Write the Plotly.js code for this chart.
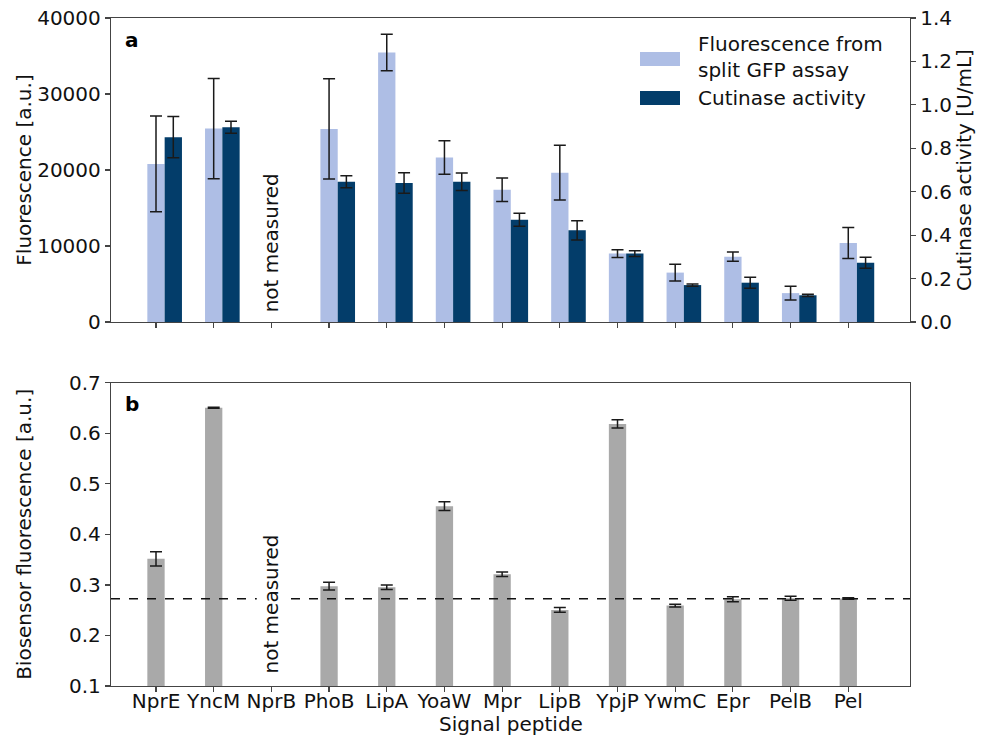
<!DOCTYPE html>
<html>
<head>
<meta charset="utf-8">
<script src="https://cdn.plot.ly/plotly-3.0.1.min.js"></script>
<style>html,body{margin:0;padding:0;background:#fff;}#chart{width:984px;height:737px;}</style>
</head>
<body>
<div id="chart"></div>
<script>
// ---- data ----
const peptides = ["NprE","YncM","NprB","PhoB","LipA","YoaW","Mpr","LipB","YpjP","YwmC","Epr","PelB","Pel"];
const splitGFP = [20800, 25450, null, 25400, 35450, 21650, 17400, 19650, 9000, 6500, 8600, 3800, 10400];
const splitGFPErr = [6300, 6600, null, 6600, 2400, 2200, 1550, 3600, 500, 1100, 600, 900, 2050];
const cutinase = [0.851, 0.897, null, 0.646, 0.640, 0.646, 0.471, 0.422, 0.315, 0.170, 0.181, 0.123, 0.273];
const cutinaseErr = [0.095, 0.028, null, 0.028, 0.047, 0.040, 0.030, 0.044, 0.013, 0.005, 0.025, 0.005, 0.025];
const biosensor = [0.3515, 0.6505, null, 0.2975, 0.2955, 0.4558, 0.3210, 0.2505, 0.6185, 0.2592, 0.2717, 0.2737, 0.2732];
const biosensorErr = [0.014, 0.001, null, 0.0075, 0.0045, 0.0087, 0.0045, 0.0047, 0.0083, 0.0027, 0.005, 0.004, 0.0015];
const biosensorThreshold = 0.2725;
const notMeasured = "NprB";

// ---- style ----
const FONT = "DejaVu Sans, sans-serif";
const FS = 20;
const lightBlue = "#AEBEE5";
const darkBlue = "#033D6A";
const gray = "#A9A9A9";
const errStyle = (arr) => ({type: "data", array: arr, visible: true, color: "#1a1a1a", thickness: 1.5, width: 6});

const traces = [
  {type: "bar", x: peptides, y: splitGFP, width: 0.3, offset: -0.15,
   marker: {color: lightBlue}, error_y: errStyle(splitGFPErr),
   xaxis: "x", yaxis: "y", name: "Fluorescence from split GFP assay", showlegend: false},
  {type: "bar", x: peptides, y: cutinase, width: 0.3, offset: 0.15,
   marker: {color: darkBlue}, error_y: errStyle(cutinaseErr),
   xaxis: "x", yaxis: "y2", name: "Cutinase activity", showlegend: false},
  {type: "bar", x: peptides, y: biosensor, width: 0.3, offset: -0.15,
   marker: {color: gray}, error_y: errStyle(biosensorErr),
   xaxis: "x2", yaxis: "y3", name: "Biosensor fluorescence", showlegend: false}
];

const L = 111, R = 910, T = 18, B = 686, W = 984, H = 737;
const px = v => (v - L) / (R - L);
const py = v => (B - v) / (B - T);
const txt = (c) => ({family: FONT, size: FS, color: c || "#111"});

const axisBase = {
  showline: true, linecolor: "#444", linewidth: 1.2, mirror: true,
  ticks: "outside", ticklen: 5, tickwidth: 1.2, tickcolor: "#444",
  showgrid: false, zeroline: false,
  tickfont: txt()
};

const catRange = [-0.78, 13.07];

const layout = {
  width: W, height: H,
  margin: {l: L, r: W - R, t: T, b: H - B},
  paper_bgcolor: "#fff", plot_bgcolor: "#fff",
  font: txt(),
  barmode: "overlay",
  showlegend: false,
  xaxis: Object.assign({}, axisBase, {
    domain: [0, 1], anchor: "y", type: "category", range: catRange,
    showticklabels: false
  }),
  yaxis: Object.assign({}, axisBase, {
    domain: [py(322), 1], anchor: "x", range: [0, 40000],
    tickvals: [0, 10000, 20000, 30000, 40000], tickformat: "d",
    title: {text: "Fluorescence [a.u.]", font: txt(), standoff: 0}
  }),
  yaxis2: Object.assign({}, axisBase, {
    overlaying: "y", side: "right", anchor: "x", range: [0, 1.4],
    tickvals: [0, 0.2, 0.4, 0.6, 0.8, 1.0, 1.2, 1.4], tickformat: ".1f",
    mirror: false,
    title: {text: "Cutinase activity [U/mL]", font: txt(), standoff: 4}
  }),
  xaxis2: Object.assign({}, axisBase, {
    domain: [0, 1], anchor: "y3", type: "category", range: catRange,
    ticklabelstandoff: -8
  }),
  yaxis3: Object.assign({}, axisBase, {
    domain: [0, py(382.7)], anchor: "x2", range: [0.1, 0.7],
    tickvals: [0.1, 0.2, 0.3, 0.4, 0.5, 0.6, 0.7], tickformat: ".1f",
    title: {text: "Biosensor fluorescence [a.u.]", font: txt(), standoff: 32}
  }),
  shapes: [
    {type: "line", xref: "x2 domain", yref: "y3", x0: 0, x1: 1,
     y0: biosensorThreshold, y1: biosensorThreshold,
     line: {color: "#111", width: 1.5, dash: "dash"}, layer: "above"},
    // custom legend patches
    {type: "rect", xref: "paper", yref: "paper", x0: px(640), x1: px(680), y0: py(66), y1: py(52),
     fillcolor: lightBlue, line: {width: 0}},
    {type: "rect", xref: "paper", yref: "paper", x0: px(640), x1: px(680), y0: py(105), y1: py(91),
     fillcolor: darkBlue, line: {width: 0}}
  ],
  annotations: [
    {xref: "x", yref: "y", x: notMeasured, y: 10400, text: "not measured", textangle: -90,
     showarrow: false, font: txt()},
    {xref: "x2", yref: "y3", x: notMeasured, y: 0.262, text: "not measured", textangle: -90,
     showarrow: false, bgcolor: "#fff", borderpad: 2, font: txt()},
    {xref: "paper", yref: "paper", x: px(123), y: py(40), xanchor: "left", yanchor: "middle",
     text: "<b>a</b>", showarrow: false, font: txt("#000")},
    {xref: "paper", yref: "paper", x: px(123), y: py(404), xanchor: "left", yanchor: "middle",
     text: "<b>b</b>", showarrow: false, font: txt("#000")},
    {xref: "paper", yref: "paper", x: px(696), y: py(57), xanchor: "left", yanchor: "middle", align: "left",
     text: "Fluorescence from<br>split GFP assay", showarrow: false, font: txt()},
    {xref: "paper", yref: "paper", x: px(696), y: py(98), xanchor: "left", yanchor: "middle", align: "left",
     text: "Cutinase activity", showarrow: false, font: txt()},
    {xref: "paper", yref: "paper", x: 0.5, y: py(724), xanchor: "center", yanchor: "middle",
     text: "Signal peptide", showarrow: false, borderpad: 0, font: txt()}
  ]
};

Plotly.newPlot("chart", traces, layout, {displayModeBar: false, staticPlot: true});
</script>
</body>
</html>
